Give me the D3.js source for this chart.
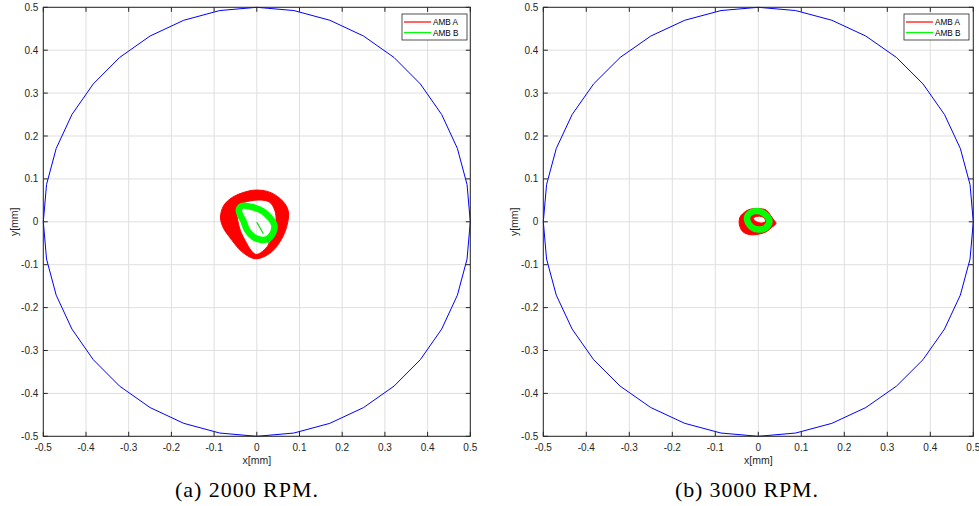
<!DOCTYPE html>
<html>
<head>
<meta charset="utf-8">
<script src="https://cdn.jsdelivr.net/npm/d3@7"></script>
<style>
  html, body { margin: 0; padding: 0; background: #ffffff; }
  svg { display: block; }
</style>
</head>
<body>
<svg id="chart" width="979" height="506"></svg>
<script>
// ---------------- DATA ----------------
const tickValues = [-0.5, -0.4, -0.3, -0.2, -0.1, 0, 0.1, 0.2, 0.3, 0.4, 0.5];
const tickLabels = ["-0.5", "-0.4", "-0.3", "-0.2", "-0.1", "0", "0.1", "0.2", "0.3", "0.4", "0.5"];
const xLabel = "x[mm]";
const yLabel = "y[mm]";
const legendNames = ["AMB A", "AMB B"];
const captions = ["(a) 2000 RPM.", "(b) 3000 RPM."];

// clearance boundary (radius 0.5 mm, 36-gon as drawn)
const boundary = [
  [0.5, 0], [0.4924, 0.0868], [0.4698, 0.171], [0.433, 0.25], [0.383, 0.3214],
  [0.3214, 0.383], [0.25, 0.433], [0.171, 0.4698], [0.0868, 0.4924], [0, 0.5],
  [-0.0868, 0.4924], [-0.171, 0.4698], [-0.25, 0.433], [-0.3214, 0.383], [-0.383, 0.3214],
  [-0.433, 0.25], [-0.4698, 0.171], [-0.4924, 0.0868], [-0.5, 0], [-0.4924, -0.0868],
  [-0.4698, -0.171], [-0.433, -0.25], [-0.383, -0.3214], [-0.3214, -0.383], [-0.25, -0.433],
  [-0.171, -0.4698], [-0.0868, -0.4924], [0, -0.5], [0.0868, -0.4924], [0.171, -0.4698],
  [0.25, -0.433], [0.3214, -0.383], [0.383, -0.3214], [0.433, -0.25], [0.4698, -0.171],
  [0.4924, -0.0868], [0.5, 0]
];

// 2000 RPM — AMB A orbit band (outer / inner envelope)
const ambA2000Outer = [
  [-0.057, 0.057], [-0.026, 0.070], [0.002, 0.074], [0.033, 0.068], [0.061, 0.048],
  [0.074, 0.024], [0.070, -0.011], [0.057, -0.042], [0.037, -0.068], [0.013, -0.083],
  [-0.004, -0.086], [-0.022, -0.079], [-0.042, -0.063], [-0.062, -0.038], [-0.078, -0.015],
  [-0.085, 0.009], [-0.078, 0.037]
];
const ambA2000Inner = [
  [-0.041, 0.040], [-0.014, 0.049], [0.017, 0.050], [0.033, 0.043], [0.044, 0.020],
  [0.044, -0.007], [0.037, -0.034], [0.025, -0.057], [0.009, -0.072], [-0.002, -0.076],
  [-0.014, -0.066], [-0.026, -0.046], [-0.038, -0.022], [-0.045, 0.005], [-0.047, 0.028]
];
// 2000 RPM — AMB B orbit
const ambB2000 = [
  [-0.042, 0.028], [-0.035, 0.037], [-0.014, 0.035], [0.013, 0.025], [0.031, 0.009],
  [0.041, -0.007], [0.038, -0.026], [0.026, -0.040], [0.009, -0.042], [-0.007, -0.036],
  [-0.023, -0.019], [-0.031, 0.001], [-0.039, 0.016]
];
const ambB2000Spoke = [[0.0, -0.001], [0.0155, -0.028]];
const ambB2000Spur = [[0.025, -0.038], [0.027, -0.052]];

// 3000 RPM — AMB A orbit region (outer / inner)
const ambA3000Outer = [
  [-0.037, 0.018], [-0.023, 0.028], [0.0, 0.031], [0.019, 0.027], [0.027, 0.017],
  [0.035, 0.006], [0.041, -0.004], [0.031, -0.013], [0.019, -0.023], [0.0, -0.029],
  [-0.019, -0.030], [-0.036, -0.023], [-0.044, -0.007], [-0.043, 0.010]
];
const ambA3000Inner = [
  [-0.0115, 0.0086], [0.0, 0.013], [0.012, 0.010], [0.017, 0.001], [0.008, -0.003], [-0.006, 0.001]
];
// 3000 RPM — AMB B orbit
const ambB3000 = [
  [-0.024, 0.016], [-0.012, 0.024], [0.004, 0.024], [0.020, 0.013], [0.026, 0.001],
  [0.017, -0.014], [0.0, -0.018], [-0.016, -0.012], [-0.026, 0.0047]
];

// ---------------- DRAW ----------------
const svg = d3.select("#chart");
svg.append("rect").attr("width", 979).attr("height", 506).attr("fill", "#ffffff");

const panels = [
  { x0: 43.3, x1: 470.3, y0: 7.3, y1: 436.3, legendX: 402, caption: captions[0], captionX: 246.5,
    aOuter: ambA2000Outer, aInner: ambA2000Inner, b: ambB2000, bExtras: [ambB2000Spoke, ambB2000Spur] },
  { x0: 543.3, x1: 973.3, y0: 7.3, y1: 436.3, legendX: 904, caption: captions[1], captionX: 746.5,
    aOuter: ambA3000Outer, aInner: ambA3000Inner, b: ambB3000, bExtras: [] }
];

const tickFont = "Liberation Sans, Arial, Helvetica, sans-serif";

panels.forEach(p => {
  const x = d3.scaleLinear().domain([-0.5, 0.5]).range([p.x0, p.x1]);
  const y = d3.scaleLinear().domain([-0.5, 0.5]).range([p.y1, p.y0]);
  const g = svg.append("g");

  // grid
  g.append("g").selectAll("line").data(tickValues).join("line")
    .attr("x1", d => x(d)).attr("x2", d => x(d))
    .attr("y1", p.y0).attr("y2", p.y1)
    .attr("stroke", "#dfdfdf").attr("stroke-width", 1);
  g.append("g").selectAll("line").data(tickValues).join("line")
    .attr("y1", d => y(d)).attr("y2", d => y(d))
    .attr("x1", p.x0).attr("x2", p.x1)
    .attr("stroke", "#dfdfdf").attr("stroke-width", 1);

  const line = d3.line().x(d => x(d[0])).y(d => y(d[1]));
  const closed = d3.line().x(d => x(d[0])).y(d => y(d[1])).curve(d3.curveCatmullRomClosed.alpha(0.5));

  // boundary circle
  g.append("path").attr("d", line(boundary))
    .attr("fill", "none").attr("stroke", "#0000ff").attr("stroke-width", 1);

  // AMB A band
  g.append("path")
    .attr("d", closed(p.aOuter) + closed(p.aInner))
    .attr("fill", "#ff0000").attr("fill-rule", "evenodd")
    .attr("stroke", "#ff0000").attr("stroke-width", 1);

  // AMB B orbit
  g.append("path").attr("d", closed(p.b))
    .attr("fill", "none").attr("stroke", "#00ff00").attr("stroke-width", 6.5)
    .attr("stroke-linejoin", "round");
  p.bExtras.forEach(seg => {
    g.append("path").attr("d", line(seg))
      .attr("fill", "none").attr("stroke", "#00dd00").attr("stroke-width", 1.2);
  });

  // axes (box with inward ticks)
  const axG = g.append("g");
  const tickLen = 4.5;
  tickValues.forEach(v => {
    axG.append("line").attr("x1", x(v)).attr("x2", x(v)).attr("y1", p.y1).attr("y2", p.y1 - tickLen).attr("stroke", "#262626");
    axG.append("line").attr("x1", x(v)).attr("x2", x(v)).attr("y1", p.y0).attr("y2", p.y0 + tickLen).attr("stroke", "#262626");
    axG.append("line").attr("y1", y(v)).attr("y2", y(v)).attr("x1", p.x0).attr("x2", p.x0 + tickLen).attr("stroke", "#262626");
    axG.append("line").attr("y1", y(v)).attr("y2", y(v)).attr("x1", p.x1).attr("x2", p.x1 - tickLen).attr("stroke", "#262626");
  });
  axG.append("rect").attr("x", p.x0).attr("y", p.y0)
    .attr("width", p.x1 - p.x0).attr("height", p.y1 - p.y0)
    .attr("fill", "none").attr("stroke", "#262626").attr("stroke-width", 1);

  // tick labels
  g.append("g").selectAll("text").data(tickValues).join("text")
    .attr("x", d => x(d)).attr("y", p.y1 + 15)
    .attr("text-anchor", "middle")
    .attr("font-family", tickFont).attr("font-size", 10).attr("fill", "#262626")
    .text((d, i) => tickLabels[i]);
  g.append("g").selectAll("text").data(tickValues).join("text")
    .attr("x", p.x0 - 5).attr("y", d => y(d) + 3.5)
    .attr("text-anchor", "end")
    .attr("font-family", tickFont).attr("font-size", 10).attr("fill", "#262626")
    .text((d, i) => tickLabels[i]);

  // axis labels
  g.append("text").attr("x", x(0)).attr("y", p.y1 + 28)
    .attr("text-anchor", "middle").attr("font-family", tickFont).attr("font-size", 10.5).attr("fill", "#262626")
    .text(xLabel);
  g.append("text")
    .attr("transform", `translate(${p.x0 - 25},${y(0)}) rotate(-90)`)
    .attr("text-anchor", "middle").attr("font-family", tickFont).attr("font-size", 10.5).attr("fill", "#262626")
    .text(yLabel);

  // legend
  const lg = g.append("g").attr("transform", `translate(${p.legendX},14)`);
  lg.append("rect").attr("x", 0).attr("y", 0).attr("width", 65).attr("height", 26)
    .attr("fill", "#ffffff").attr("stroke", "#262626").attr("stroke-width", 0.8);
  const legColors = ["#ff0000", "#00ff00"];
  legendNames.forEach((name, i) => {
    const yy = 8 + i * 10.5;
    lg.append("line").attr("x1", 2).attr("x2", 29).attr("y1", yy).attr("y2", yy)
      .attr("stroke", legColors[i]).attr("stroke-width", 1.2);
    lg.append("text").attr("x", 31).attr("y", yy + 3)
      .attr("font-family", tickFont).attr("font-size", 8.2).attr("fill", "#000000")
      .text(name);
  });

  // caption
  svg.append("text").attr("x", p.captionX).attr("y", 497)
    .attr("text-anchor", "middle")
    .attr("font-family", "Liberation Serif, 'DejaVu Serif', serif").attr("font-size", 22)
    .attr("textLength", 143).attr("lengthAdjust", "spacing")
    .attr("fill", "#000000")
    .text(p.caption);
});
</script>
</body>
</html>
